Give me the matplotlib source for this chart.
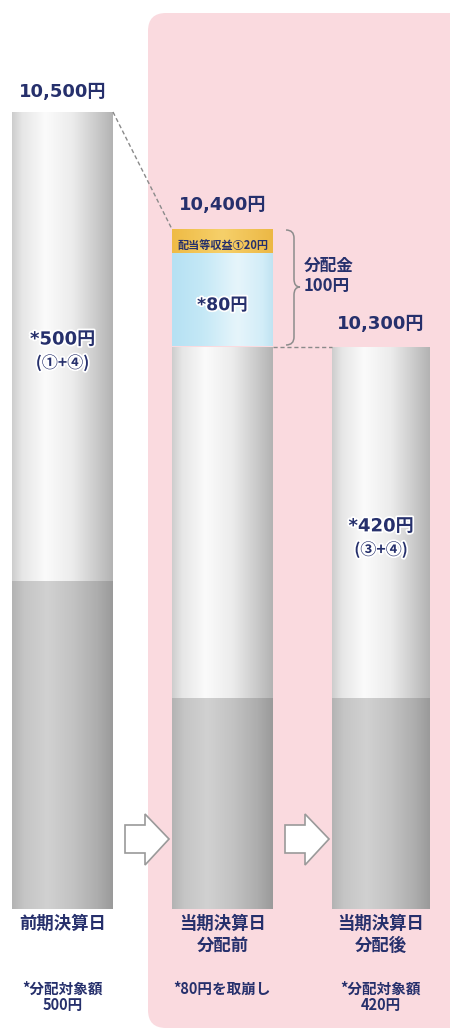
import numpy as np
import matplotlib
matplotlib.use('Agg')
import matplotlib.pyplot as plt
from matplotlib.patches import FancyBboxPatch, Polygon, PathPatch
from matplotlib.path import Path
import matplotlib.patheffects as pe
import matplotlib.colors as mcolors

# ---------------- data ----------------
categories = ['前期決算日', '当期決算日\n分配前', '当期決算日\n分配後']
notes = ['*分配対象額\n500円', '*80円を取崩し', '*分配対象額\n420円']
nav_totals = [10500, 10400, 10300]      # 基準価額（円）
base_top = [10100, 10000, 10000]        # gray base section top (schematic)
bar_floor = 9820                        # bottom of drawn bars
income = 20                             # 配当等収益
withdraw = 80                           # 取崩し
distribution = income + withdraw        # 分配金
target_labels = ['*500円\n(①+④)', None, '*420円\n(③+④)']
income_label = '配当等収益①20円'
withdraw_label = '*80円'
dist_label = '分配金\n100円'

# ---------------- layout ----------------
W, H = 450, 1032
xpos = [62.5, 222.5, 381.0]
widths = [101, 101, 98]
NAVY = '#26306c'
PINK = '#fadadf'
JP = ['Noto Sans CJK JP', 'DejaVu Sans']
NUM = ['DejaVu Sans', 'Noto Sans CJK JP']

fig = plt.figure(figsize=(W / 100, H / 100), dpi=100)
fig.patch.set_facecolor('white')

# background (pixel coords)
bg = fig.add_axes([0, 0, 1, 1], zorder=1)
bg.set_xlim(0, W); bg.set_ylim(H, 0); bg.axis('off')
bg.add_patch(FancyBboxPatch((148, 13), 340, 1015,
                            boxstyle='round,pad=0,rounding_size=18',
                            fc=PINK, ec='none'))

# main data axes
ax = fig.add_axes([0, 0, 1, 1], zorder=2)
ax.patch.set_visible(False)
ax.axis('off')
# pixel 112 -> 10500, 1.1725 px per yen
k = 1.1725
ax.set_xlim(0, W)
ylo, yhi = 10500 - (H - 112) / k, 10500 + 112 / k


def grad(stops, colors):
    xs = np.linspace(0, 1, 200)
    rgb = np.array([mcolors.to_rgb(c) for c in colors])
    img = np.stack([np.interp(xs, stops, rgb[:, i]) for i in range(3)], axis=-1)
    return img[np.newaxis, :, :]


LIGHT = grad([0, 0.1, 0.33, 0.6, 0.85, 1],
             ['#cdcdcd', '#e6e6e6', '#fbfbfb', '#ececec', '#c9c9c9', '#b3b3b3'])
DARK = grad([0, 0.12, 0.35, 0.6, 0.85, 1],
            ['#b3b3b3', '#c5c5c5', '#d1d1d1', '#c3c3c3', '#adadad', '#9a9a9a'])
BLUE = grad([0, 0.3, 0.65, 0.9, 1],
            ['#b5e1f3', '#c4e8f6', '#e6f5fb', '#d2edf8', '#c0e3f2'])
ORANGE = grad([0, 0.5, 1],
              ['#efbb45', '#f6d06a', '#ecb845'])


def seg(i, lo, hi, img):
    r = ax.bar(xpos[i], hi - lo, bottom=lo, width=widths[i],
               color='none', edgecolor='none')[0]
    x0 = xpos[i] - widths[i] / 2
    im = ax.imshow(img, extent=[x0, x0 + widths[i], lo, hi],
                   aspect='auto', interpolation='bilinear', zorder=2)
    im.set_clip_path(r)


for i in range(3):
    seg(i, bar_floor, base_top[i], DARK)
light_tops = [nav_totals[0], nav_totals[1] - distribution, nav_totals[2]]
for i in range(3):
    seg(i, base_top[i], light_tops[i], LIGHT)
seg(1, light_tops[1], light_tops[1] + withdraw, BLUE)
seg(1, light_tops[1] + withdraw, nav_totals[1], ORANGE)
ax.set_ylim(ylo, yhi)

# dashed connectors
ax.plot([xpos[0] + widths[0] / 2, xpos[1] - widths[1] / 2],
        [nav_totals[0], nav_totals[1]], ls=(0, (3, 2)), color='#8a8a8a', lw=1, zorder=3)
ax.plot([xpos[1] + widths[1] / 2, xpos[2] - widths[2] / 2],
        [light_tops[1], nav_totals[2]], ls=(0, (3, 2)), color='#8a8a8a', lw=1, zorder=3)

halo = [pe.withStroke(linewidth=2.5, foreground='white')]

# total labels
offs = [20, 24, 23]
for i in range(3):
    ax.annotate(f'{nav_totals[i]:,}円', (xpos[i], nav_totals[i]),
                xytext=(0, offs[i] / 1.389), textcoords='offset points',
                ha='center', va='center', fontsize=13, fontweight='bold',
                color=NAVY, family=NUM, zorder=5)

# inside-bar labels
for i in (0, 2):
    lines = target_labels[i].split('\n')
    mid = (base_top[i] + light_tops[i]) / 2
    dy = 4 if i == 0 else 15
    ax.annotate(lines[0], (xpos[i], mid), xytext=(0, -(dy - 11) / 1.389),
                textcoords='offset points', ha='center', va='center',
                fontsize=13, fontweight='bold', color=NAVY, family=NUM,
                path_effects=halo, zorder=5)
    ax.annotate(lines[1], (xpos[i], mid), xytext=(0, -(dy + 12) / 1.389),
                textcoords='offset points', ha='center', va='center',
                fontsize=11.5, fontweight='bold', color=NAVY, family=JP,
                path_effects=halo, zorder=5)

ax.annotate(withdraw_label, (xpos[1], light_tops[1] + withdraw / 2),
            xytext=(0, -4), textcoords='offset points', ha='center', va='center',
            fontsize=12.5, fontweight='bold', color=NAVY, family=NUM,
            path_effects=halo, zorder=5)
ax.annotate(income_label, (xpos[1], light_tops[1] + withdraw + income / 2),
            xytext=(0, -3), textcoords='offset points', ha='center', va='center',
            fontsize=8, fontweight='bold', color=NAVY, family=JP, zorder=5)

# overlay in pixel coords
top = fig.add_axes([0, 0, 1, 1], zorder=3)
top.patch.set_visible(False)
top.set_xlim(0, W); top.set_ylim(H, 0); top.axis('off')

# brace
yt, yb, ym = 230, 345, 287
xl, xm, xt, r = 286, 294, 300, 8
verts = [(xl, yt), (xm, yt), (xm, yt + r), (xm, ym - r), (xm, ym), (xt, ym),
         (xm, ym), (xm, ym + r), (xm, yb - r), (xm, yb), (xl, yb)]
codes = [Path.MOVETO, Path.CURVE3, Path.CURVE3, Path.LINETO, Path.CURVE3, Path.CURVE3,
         Path.CURVE3, Path.CURVE3, Path.LINETO, Path.CURVE3, Path.CURVE3]
top.add_patch(PathPatch(Path(verts, codes), fc='none', ec='#8c8c8c', lw=1.1))
top.text(304, 276, dist_label, ha='left', va='center', fontsize=12,
         fontweight='bold', color=NAVY, family=JP, linespacing=1.1)

# block arrows
for dx in (0, 160):
    pts = [(125 + dx, 825), (145 + dx, 825), (145 + dx, 814), (169 + dx, 839),
           (145 + dx, 865), (145 + dx, 853), (125 + dx, 853)]
    top.add_patch(Polygon(pts, closed=True, fc='white', ec='#9a9a9a', lw=1.2))

# category labels and notes
for i in range(3):
    top.text(xpos[i], 915, categories[i], ha='center', va='top', fontsize=12.5,
             fontweight='bold', color=NAVY, family=JP, linespacing=1.25)
    top.text(xpos[i], 981, notes[i], ha='center', va='top', fontsize=10.5,
             fontweight='bold', color=NAVY, family=JP, linespacing=1.0)

fig.savefig('out.png', dpi=100, facecolor='white')
